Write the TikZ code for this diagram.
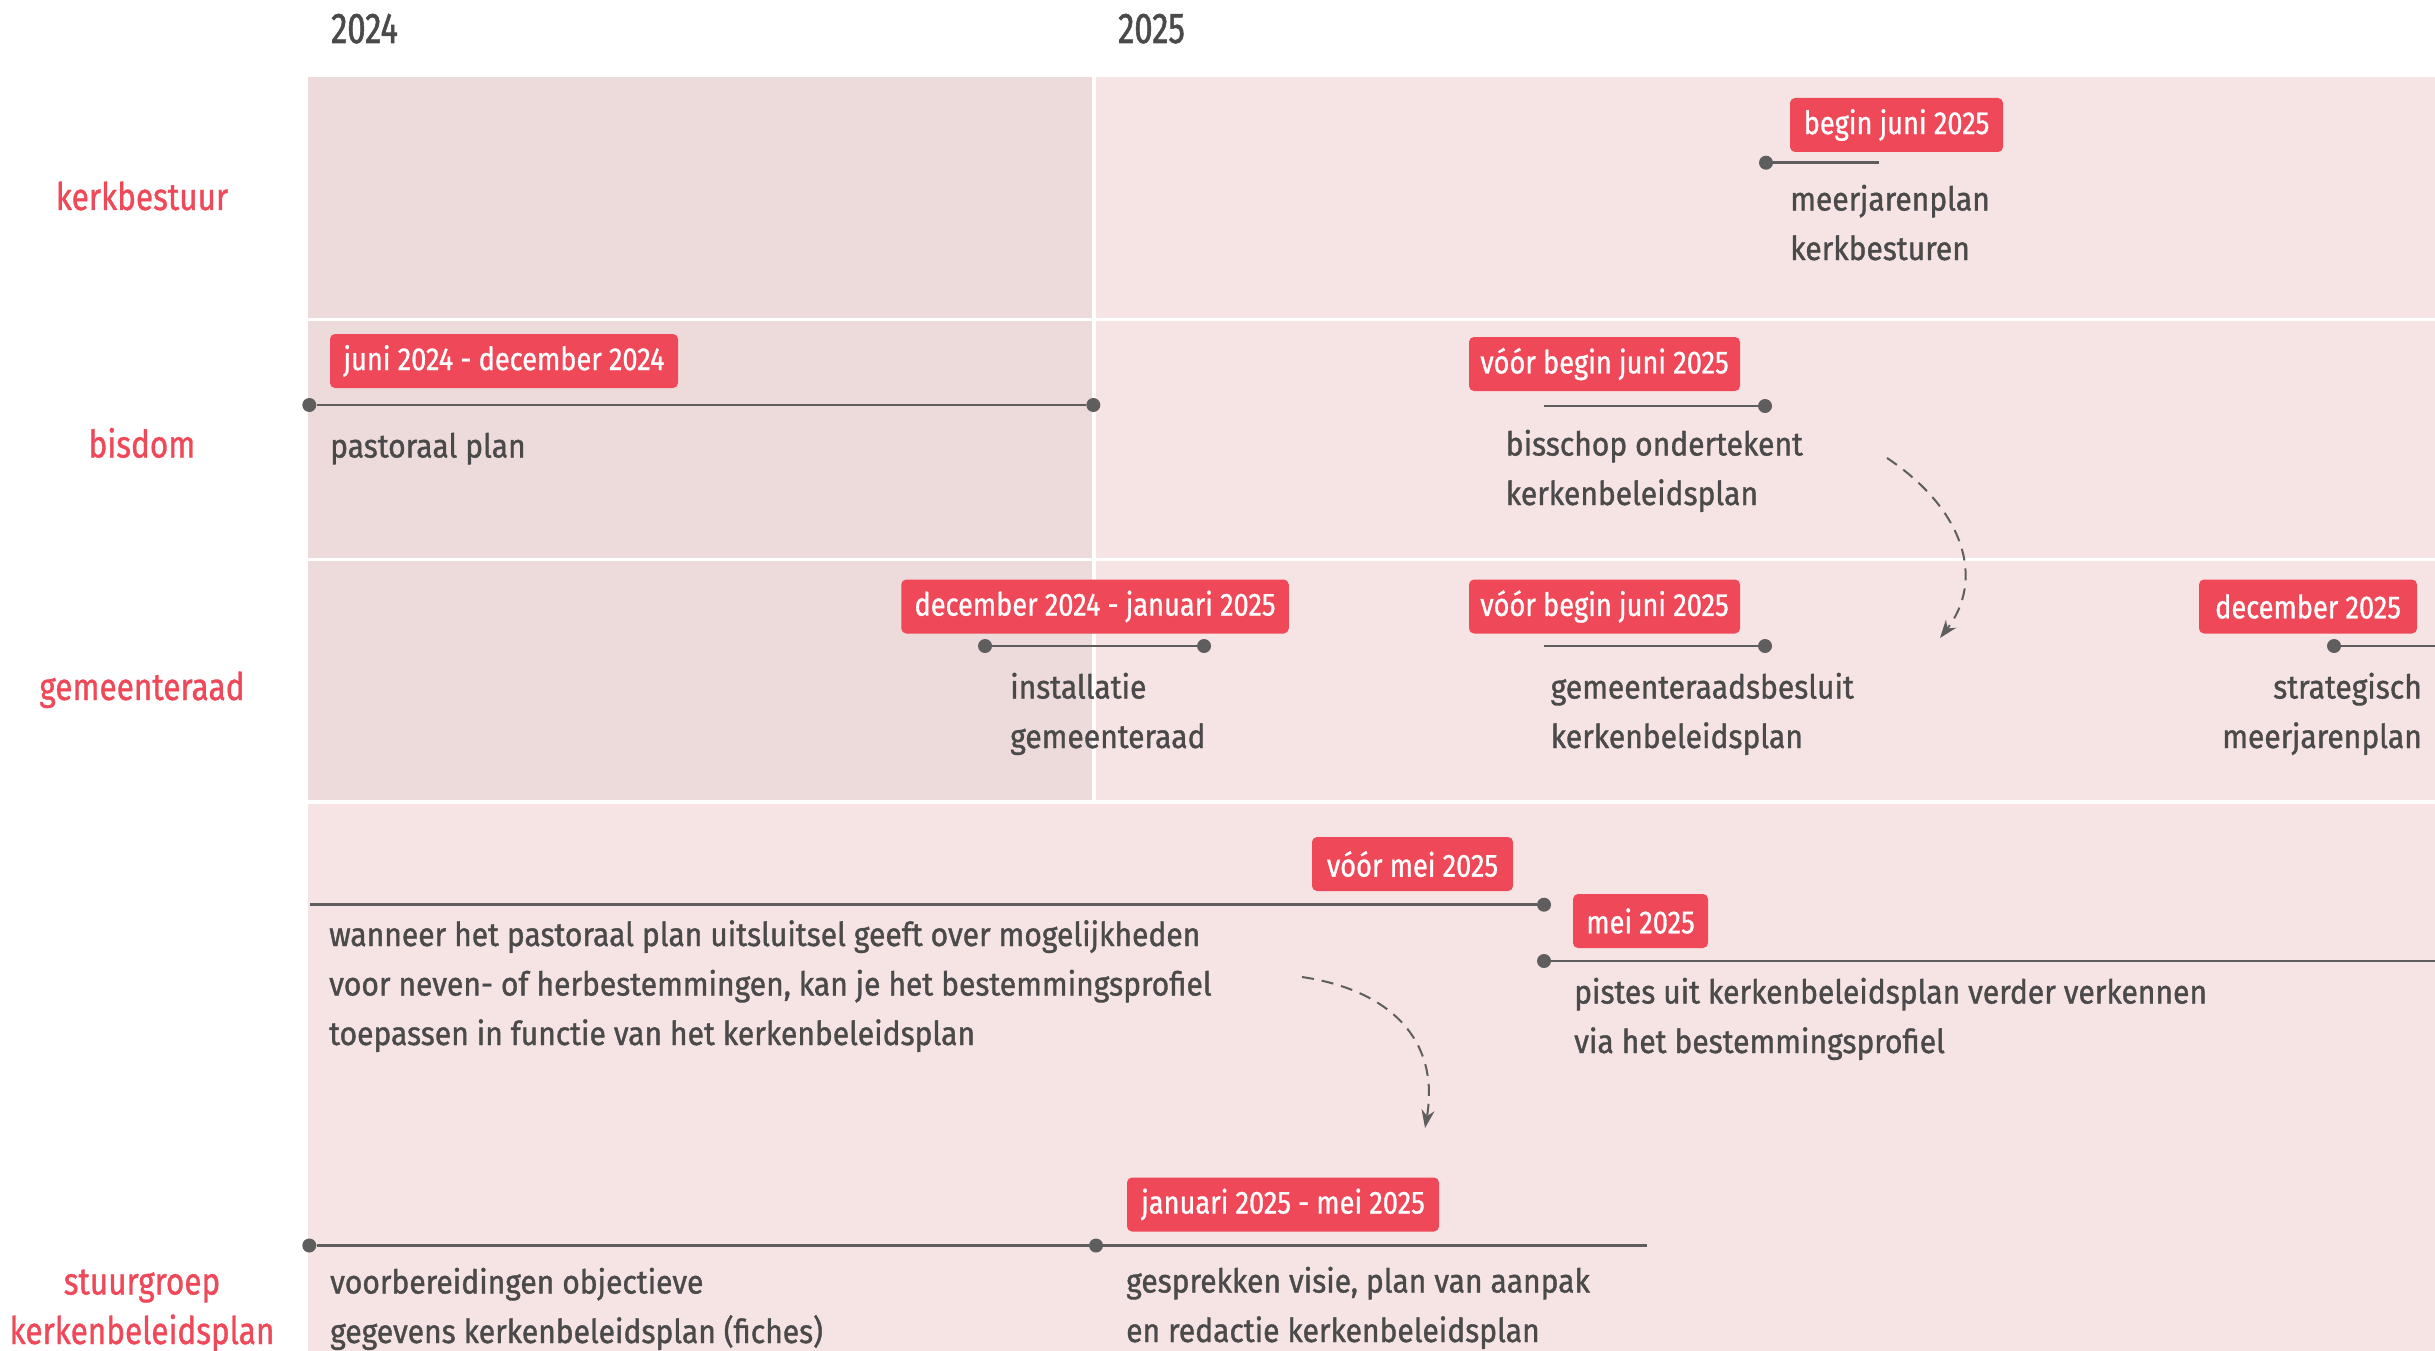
\documentclass[tikz,border=0pt]{standalone}
\usepackage{fontspec}
\setmainfont{Fira Sans}[FakeStretch=0.91]
\newfontfamily\fbody{Fira Sans}[FakeStretch=0.91, FakeBold=1.1]
\newfontfamily\fbadge{Fira Sans}[FakeStretch=0.85, FakeBold=0.9]
\newfontfamily\frow{Fira Sans}[FakeStretch=0.83, FakeBold=0.9]
\newfontfamily\fyear{Fira Sans}[FakeStretch=0.76, FakeBold=1.3]
\usetikzlibrary{arrows.meta}
\definecolor{darkbg}{HTML}{EDDADA}
\definecolor{lightbg}{HTML}{F6E4E4}
\definecolor{badgered}{HTML}{EF4858}
\definecolor{txtgray}{HTML}{4A4A4A}
\definecolor{linegray}{HTML}{5E5E5E}
\definecolor{labelred}{HTML}{EF4858}
\newcommand\tlbody{\fbody\fontsize{33}{49.5}\selectfont}
\newcommand\tlbadge{\fbadge\fontsize{32}{36}\selectfont}
\newcommand\tlrow{\frow\fontsize{38}{49.5}\selectfont}
\newcommand\tlyear{\fyear\fontsize{43}{50}\selectfont}
\begin{document}
\begin{tikzpicture}[x=1pt,y=-1pt,
  txt/.style={font=\tlbody, text=txtgray, inner sep=0pt, align=left, anchor=base west},
  txtr/.style={font=\tlbody, text=txtgray, inner sep=0pt, align=right, anchor=base east},
  badge/.style={fill=badgered, rounded corners=5pt, text=white, font=\tlbadge, inner sep=0pt, minimum height=54pt},
  rowlab/.style={font=\tlrow, text=labelred, inner sep=0pt, align=center, anchor=base},
  yearlab/.style={font=\tlyear, text=txtgray, inner sep=0pt, anchor=base west},
  dot/.style={circle, fill=linegray, inner sep=0pt, minimum size=14pt},
  tl/.style={draw=linegray, line width=2.5pt},
  dasharrow/.style={draw=linegray, line width=2pt, dash pattern=on 12pt off 8pt, -{Stealth[length=18pt,width=13pt]}}
]
\useasboundingbox (0,0) rectangle (2435,1351);
\fill[white] (0,0) rectangle (2435,1351);
% panels
\fill[darkbg] (308,77.5) rectangle (1091.7,317.5);
\fill[lightbg] (1095.7,77.5) rectangle (2435,317.5);
\fill[darkbg] (308,321) rectangle (1091.7,557.5);
\fill[lightbg] (1095.7,321) rectangle (2435,557.5);
\fill[darkbg] (308,561) rectangle (1091.7,799.5);
\fill[lightbg] (1095.7,561) rectangle (2435,799.5);
\fill[lightbg] (308,804) rectangle (2435,1351);
% years
\node[yearlab] (y24) at (331,43) {2024};
\node[yearlab] (y25) at (1118,43) {2025};
% row labels (base = last line)
\node[rowlab] (lkb) at (142,210) {kerkbestuur};
\node[rowlab] (lbis) at (142,457.5) {bisdom};
\node[rowlab] (lgem) at (142,700) {gemeenteraad};
\node[rowlab] (lstu) at (142,1344) {stuurgroep\\kerkenbeleidsplan};
% badges
\node[badge, minimum width=213pt] (b1) at (1896.5,125) {begin juni 2025};
\node[badge, minimum width=348pt] (b2) at (504,361) {juni 2024 - december 2024};
\node[badge, minimum width=271pt] (b3) at (1604.5,364) {vóór begin juni 2025};
\node[badge, minimum width=387.5pt] (b4) at (1095,606.5) {december 2024 - januari 2025};
\node[badge, minimum width=271pt] (b5) at (1604.5,606.5) {vóór begin juni 2025};
\node[badge, minimum width=218pt] (b6) at (2308,606.5) {december 2025};
\node[badge, minimum width=201pt] (b7) at (1412.5,864) {vóór mei 2025};
\node[badge, minimum width=135pt] (b8) at (1640.5,921) {mei 2025};
\node[badge, minimum width=312pt] (b9) at (1283,1204.5) {januari 2025 - mei 2025};
% timelines
\node[dot] (k1) at (1766,162.7) {};
\coordinate (k2) at (1879,162.7);
\draw[tl] (k1) -- (k2);
\node[dot] (p1) at (309.3,405) {};
\node[dot] (p2) at (1093.3,405) {};
\draw[tl] (p1) -- (p2);
\coordinate (bs1) at (1544,406);
\node[dot] (bs2) at (1765,406) {};
\draw[tl] (bs1) -- (bs2);
\node[dot] (i1) at (985,646) {};
\node[dot] (i2) at (1204,646) {};
\draw[tl] (i1) -- (i2);
\coordinate (g1) at (1544,646);
\node[dot] (g2) at (1765,646) {};
\draw[tl] (g1) -- (g2);
\node[dot] (s1) at (2334,646) {};
\coordinate (s2) at (2435,646);
\draw[tl] (s1) -- (s2);
\coordinate (w1) at (310,904.7);
\node[dot] (w2) at (1544,904.7) {};
\draw[tl] (w1) -- (w2);
\node[dot] (v1) at (1544,961) {};
\coordinate (v2) at (2435,961);
\draw[tl] (v1) -- (v2);
\node[dot] (o1) at (309.3,1245.5) {};
\node[dot] (o2) at (1096,1245.5) {};
\coordinate (o3) at (1647,1245.5);
\draw[tl] (o1) -- (o2) -- (o3);
% texts (anchored at the baseline of the last line)
\node[txt] (t1) at (1790,260) {meerjarenplan\\kerkbesturen};
\node[txt] (t2) at (330,457.5) {pastoraal plan};
\node[txt] (t3) at (1505.6,505) {bisschop ondertekent\\kerkenbeleidsplan};
\node[txt] (t4) at (1010,748) {installatie\\gemeenteraad};
\node[txt] (t5) at (1550.5,748) {gemeenteraadsbesluit\\kerkenbeleidsplan};
\node[txtr] (t6) at (2422,748) {strategisch\\meerjarenplan};
\node[txt] (t7) at (329,1045) {wanneer het pastoraal plan uitsluitsel geeft over mogelijkheden\\voor neven- of herbestemmingen, kan je het bestemmingsprofiel\\toepassen in functie van het kerkenbeleidsplan};
\node[txt] (t8) at (1574,1053) {pistes uit kerkenbeleidsplan verder verkennen\\via het bestemmingsprofiel};
\node[txt] (t9) at (330,1343) {voorbereidingen objectieve\\gegevens kerkenbeleidsplan (fiches)};
\node[txt] (t10) at (1126,1342) {gesprekken visie, plan van aanpak\\en redactie kerkenbeleidsplan};
% dashed arrows
\coordinate (a1s) at (1887,458);
\coordinate (a1e) at (1940,638);
\draw[dasharrow] (a1s) .. controls (1965,510) and (1985,580) .. (a1e);
\coordinate (a2s) at (1302,977);
\coordinate (a2e) at (1425,1128);
\draw[dasharrow] (a2s) .. controls (1390,990) and (1440,1040) .. (a2e);
\end{tikzpicture}
\end{document}
